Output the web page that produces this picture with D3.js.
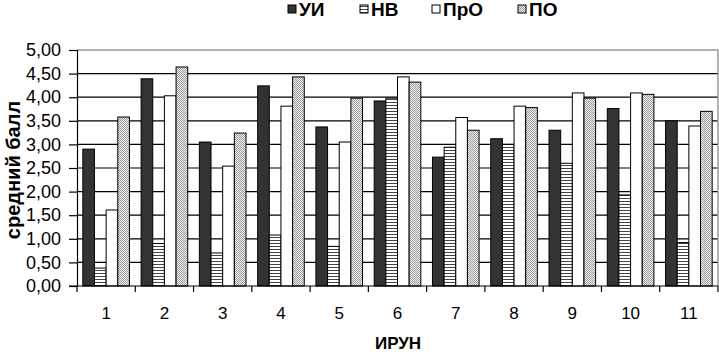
<!DOCTYPE html>
<html><head><meta charset="utf-8">
<script src="https://cdn.jsdelivr.net/npm/d3@7"></script>
<style>body{margin:0;background:#fff}svg{display:block;font-family:Arial,"Liberation Sans",sans-serif}</style>
</head><body><svg id="c" width="719" height="352"></svg>
<script>
const categories = ["1","2","3","4","5","6","7","8","9","10","11"];
const seriesNames = ["УИ","НВ","ПрО","ПО"];
const UI  = [2.90,4.39,3.05,4.24,3.37,3.92,2.73,3.12,3.30,3.76,3.50];
const NV  = [0.38,0.90,0.70,1.08,0.84,3.98,2.94,3.00,2.60,1.93,0.92];
const PRO = [1.61,4.03,2.54,3.81,3.05,4.43,3.57,3.81,4.09,4.09,3.39];
const PO  = [3.58,4.64,3.24,4.43,3.98,4.32,3.30,3.78,3.98,4.06,3.70];
const yTicks = [0,0.5,1,1.5,2,2.5,3,3.5,4,4.5,5];
const xTitle = "ИРУН", yTitle = "средний балл";

const seriesVals = [UI, NV, PRO, PO];
const fills = ["#333333","url(#pNV)","#ffffff","url(#pPO)"];
const FONT = "Arial, 'Liberation Sans', sans-serif";

const svg = d3.select("#c");
const defs = svg.append("defs");
const p1 = defs.append("pattern").attr("id","pNV").attr("patternUnits","userSpaceOnUse").attr("width",4).attr("height",3);
p1.append("rect").attr("width",4).attr("height",3).attr("fill","#fff");
p1.append("rect").attr("width",4).attr("height",1).attr("fill","#444");
const p2 = defs.append("pattern").attr("id","pPO").attr("patternUnits","userSpaceOnUse").attr("width",2).attr("height",2);
p2.append("rect").attr("width",2).attr("height",2).attr("fill","#f2f2f2");
p2.append("rect").attr("x",0).attr("y",0).attr("width",1).attr("height",1).attr("fill","#9a9a9a");
p2.append("rect").attr("x",1).attr("y",1).attr("width",1).attr("height",1).attr("fill","#9a9a9a");

const L = 77, R = 718, T = 50, B = 286;
const x = d3.scaleBand().domain(categories).range([L,R]).paddingInner(0.2).paddingOuter(0.1);
const xs = d3.scaleBand().domain(seriesNames).range([0,x.bandwidth()]);
const y = d3.scaleLinear().domain([0,5]).range([B,T]);

// gridlines
svg.append("g").selectAll("line").data(yTicks.filter(v=>v>0 && v<5)).join("line")
  .attr("x1",L).attr("x2",R).attr("y1",d=>y(d)).attr("y2",d=>y(d))
  .attr("stroke","#000").attr("stroke-width",1.2);
// plot border top/right gray
svg.append("path").attr("d",`M${L},${y(5)}H${R}V${B}`).attr("fill","none").attr("stroke","#999").attr("stroke-width",1.5);

// bars
const g = svg.append("g");
seriesNames.forEach((s,si)=>{
  g.append("g").selectAll("rect").data(seriesVals[si]).join("rect")
    .attr("x",(d,i)=>x(categories[i])+xs(s))
    .attr("y",d=>y(d))
    .attr("width",xs.bandwidth())
    .attr("height",d=>B-y(d))
    .attr("fill",fills[si]).attr("stroke","#000").attr("stroke-width",1);
});

// y axis
const ya = d3.axisLeft(y).tickValues(yTicks).tickSize(8).tickPadding(8)
  .tickFormat(d=>d3.format(".2f")(d).replace(".",","));
const yg = svg.append("g").attr("transform",`translate(${L},0)`).call(ya);
yg.select(".domain").attr("stroke","#000").attr("stroke-width",1.2);
yg.selectAll(".tick line").attr("stroke","#000").attr("stroke-width",1.2);
yg.selectAll("text").attr("font-size",18).attr("fill","#000").attr("font-family",FONT);

// x axis
const xa = d3.axisBottom(x).tickSize(0).tickPadding(21);
const xg = svg.append("g").attr("transform",`translate(0,${B})`).call(xa);
xg.select(".domain").remove();
xg.selectAll("text").attr("font-size",17).attr("fill","#000").attr("font-family",FONT);
svg.append("line").attr("x1",L-8).attr("x2",R).attr("y1",B).attr("y2",B).attr("stroke","#000").attr("stroke-width",1.2);
const step = x.step();
svg.append("g").selectAll("line").data(d3.range(categories.length+1)).join("line")
  .attr("x1",i=>L+i*step).attr("x2",i=>L+i*step).attr("y1",B).attr("y2",B+6)
  .attr("stroke","#000").attr("stroke-width",1.2);

// titles
svg.append("text").attr("x",398).attr("y",349).attr("text-anchor","middle")
  .attr("font-size",17).attr("font-weight","bold").text(xTitle);
svg.append("text").attr("transform",`translate(20,170) rotate(-90)`).attr("text-anchor","middle")
  .attr("font-size",20).attr("font-weight","bold").text(yTitle);

// legend
const lx = [288,360,432,518];
const leg = svg.append("g");
seriesNames.forEach((s,i)=>{
  leg.append("rect").attr("x",lx[i]).attr("y",5).attr("width",8).attr("height",8)
    .attr("fill",fills[i]).attr("stroke","#000").attr("stroke-width",1);
  leg.append("text").attr("x",lx[i]+11).attr("y",16).attr("font-size",19).attr("font-weight","bold").text(s);
});
</script></body></html>
